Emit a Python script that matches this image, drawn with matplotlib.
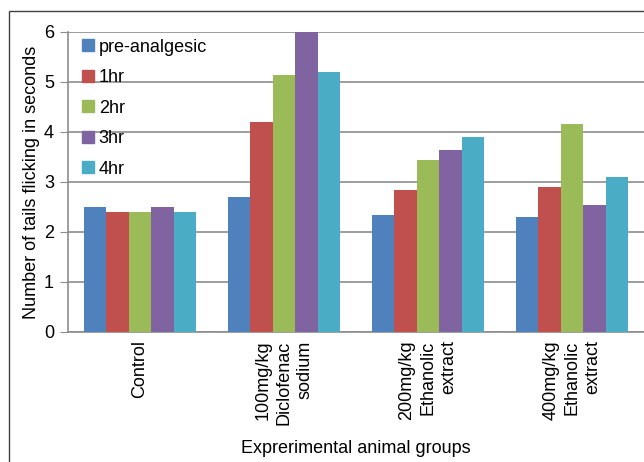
import matplotlib
matplotlib.use("Agg")
import matplotlib.pyplot as plt
import numpy as np
from matplotlib.patches import Rectangle
from matplotlib.lines import Line2D

categories = ["Control", "100mg/kg\nDiclofenac\nsodium", "200mg/kg\nEthanolic\nextract", "400mg/kg\nEthanolic\nextract"]
series_names = ["pre-analgesic", "1hr", "2hr", "3hr", "4hr"]
pre_analgesic = [2.5, 2.7, 2.35, 2.3]
hr1 = [2.4, 4.2, 2.85, 2.9]
hr2 = [2.4, 5.15, 3.45, 4.15]
hr3 = [2.5, 6.0, 3.65, 2.55]
hr4 = [2.4, 5.2, 3.9, 3.1]
series = [pre_analgesic, hr1, hr2, hr3, hr4]
colors = ["#4F81BD", "#C0504D", "#9BBB59", "#8064A2", "#4BACC6"]
yticks = [0, 1, 2, 3, 4, 5, 6]

plt.rcParams['font.family'] = ['Liberation Sans', 'DejaVu Sans']
FS = 13

fig = plt.figure(figsize=(6.44, 4.62), dpi=100)
fig.patches.append(Rectangle((9/644, -0.1), 1.2, 1 - 11/462 + 0.1, transform=fig.transFigure,
                             fill=False, edgecolor="#404040", linewidth=1.0))
ax = fig.add_axes([68/644, 1 - 332/462, 576/644, 300/462])

x = np.arange(len(categories))
w = 0.156
for i, (vals, c) in enumerate(zip(series, colors)):
    ax.bar(x + (i - 2) * w, vals, width=w, color=c, label=series_names[i], zorder=3)

ax.set_xlim(-0.5, 3.5)
ax.set_ylim(0, 6)
ax.set_yticks(yticks)
ax.yaxis.grid(True, color="#8C8C8C", linewidth=1.2, zorder=0)
ax.set_axisbelow(True)
for s in ["top", "right"]:
    ax.spines[s].set_visible(False)
ax.spines["left"].set_color("#8C8C8C")
ax.spines["bottom"].set_color("#8C8C8C")
ax.spines["left"].set_linewidth(1.2)
ax.spines["bottom"].set_linewidth(1.2)
ax.tick_params(axis="y", length=6, color="#8C8C8C", labelsize=FS, pad=4)
ax.tick_params(axis="x", length=0, labelsize=FS, pad=6)
ax.set_xticks(x)
ax.set_xticklabels(categories, rotation=90, va="top", ha="center", linespacing=1.3,
                   multialignment="right")
ax.set_ylabel("Number of tails flicking in seconds", fontsize=FS, labelpad=3)
ax.set_xlabel("Exprerimental animal groups", fontsize=FS, labelpad=11)

handles = [Line2D([], [], marker="s", linestyle="none", markersize=9, markerfacecolor=c,
                  markeredgecolor=c) for c in colors]
ax.legend(handles, series_names, loc="upper left", bbox_to_anchor=(0.0, 1.014), frameon=False,
          fontsize=FS, labelspacing=0.75, handletextpad=0.1, handlelength=1.0, borderaxespad=0.2)

fig.savefig("out.png", dpi=100)
